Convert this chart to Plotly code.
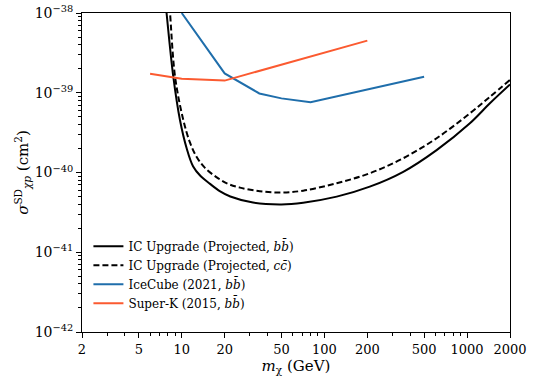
import plotly.graph_objs as go

# IC Upgrade projected, b bbar
ic_bb_mass = [7.75, 7.83, 8.73, 9.72, 10.84, 12.0, 13.5, 15.8, 18.6, 21.9, 31.6, 50, 71, 122, 208, 357, 612, 1047, 1446, 2000]
ic_bb_sigma = [1.2e-38, 1.0e-38, 1.59e-39, 4.55e-40, 2.0e-40, 1.2e-40, 9.1e-41, 7.2e-41, 5.8e-41, 5.0e-41, 4.2e-41,
               3.98e-41, 4.18e-41, 4.98e-41, 6.64e-41, 1.02e-40, 1.91e-40, 4.14e-40, 7.38e-40, 1.27e-39]

# IC Upgrade projected, c cbar
ic_cc_mass = [8.2, 8.28, 8.98, 10.26, 11.4, 12.7, 14.5, 17.6, 21, 25.6, 35.3, 50, 71, 122, 208, 357, 612, 1047, 1446, 2000]
ic_cc_sigma = [1.2e-38, 1.0e-38, 1.59e-39, 4.55e-40, 2.4e-40, 1.58e-40, 1.15e-40, 8.7e-41, 7.24e-41, 6.46e-41,
               5.82e-41, 5.6e-41, 5.92e-41, 7.33e-41, 9.78e-41, 1.51e-40, 2.69e-40, 5.52e-40, 8.9e-40, 1.45e-39]

# IceCube 2021
icecube_mass = [10, 20, 35, 50, 80, 500]
icecube_sigma = [1.0e-38, 1.75e-39, 9.8e-40, 8.5e-40, 7.6e-40, 1.59e-39]

# Super-K 2015
superk_mass = [6, 10, 20, 50, 100, 200]
superk_sigma = [1.73e-39, 1.5e-39, 1.42e-39, 2.26e-39, 3.2e-39, 4.5e-39]

x_ticks = [2, 5, 10, 20, 50, 100, 200, 500, 1000, 2000]
y_exps = [-42, -41, -40, -39, -38]

FONT = "'DejaVu Serif', serif"
bb = "<i>b</i><i>b\u0304</i>"
cc = "<i>c</i><i>c\u0304</i>"

traces = [
    go.Scatter(x=ic_bb_mass, y=ic_bb_sigma, mode="lines", name="IC Upgrade (Projected, " + bb + ")",
               line=dict(color="black", width=2, shape="spline", smoothing=1.0)),
    go.Scatter(x=ic_cc_mass, y=ic_cc_sigma, mode="lines", name="IC Upgrade (Projected, " + cc + ")",
               line=dict(color="black", width=2, dash="6px,3px", shape="spline", smoothing=1.0)),
    go.Scatter(x=icecube_mass, y=icecube_sigma, mode="lines", name="IceCube (2021, " + bb + ")",
               line=dict(color="#1f6eab", width=2)),
    go.Scatter(x=superk_mass, y=superk_sigma, mode="lines", name="Super-K (2015, " + bb + ")",
               line=dict(color="#fb5a30", width=2)),
]

x_minor = []
for dec in [1, 10, 100, 1000]:
    for m in range(2, 10):
        v = m * dec
        if 2 <= v <= 2000 and v not in x_ticks:
            x_minor.append(v)
y_minor = []
for e in y_exps[:-1]:
    for m in range(2, 10):
        y_minor.append(m * 10.0 ** e)

layout = go.Layout(
    width=534, height=388,
    margin=dict(l=82, r=24, t=13, b=56, autoexpand=False),
    paper_bgcolor="white", plot_bgcolor="white",
    font=dict(family=FONT, color="black", size=13),
    showlegend=True,
    legend=dict(x=0.015, y=0.045, xanchor="left", yanchor="bottom", bgcolor="rgba(255,255,255,0)",
                font=dict(size=12, family=FONT), tracegroupgap=0, itemwidth=30),
    xaxis=dict(
        type="log", range=[0.30103, 3.30103], automargin=False,
        tickmode="array", tickvals=x_ticks, ticktext=[str(v) for v in x_ticks],
        ticks="outside", ticklen=5, tickwidth=1, tickcolor="black",
        showline=True, linecolor="black", linewidth=1, mirror=True,
        showgrid=False, zeroline=False,
        minor=dict(tickmode="array", tickvals=x_minor, ticks="outside", ticklen=3,
                   tickcolor="black", showgrid=False),
        title=dict(text="<i>m</i><sub>χ</sub> (GeV)", font=dict(size=15), standoff=4),
        tickfont=dict(size=13),
    ),
    yaxis=dict(
        type="log", range=[-42, -38], automargin=False,
        tickmode="array", tickvals=[10.0 ** e for e in y_exps],
        ticktext=["10<sup>\u2212%d</sup>" % (-e) for e in y_exps],
        ticks="outside", ticklen=5, tickwidth=1, tickcolor="black",
        showline=True, linecolor="black", linewidth=1, mirror=True,
        showgrid=False, zeroline=False,
        minor=dict(tickmode="array", tickvals=y_minor, ticks="outside", ticklen=3,
                   tickcolor="black", showgrid=False),
        title=dict(text="<i>σ</i><sup>SD</sup><sub><i>χp</i></sub> (cm<sup>2</sup>)",
                   font=dict(size=15), standoff=2),
        tickfont=dict(size=14),
    ),
)

fig = go.Figure(data=traces, layout=layout)
# drop the default 8px body margin so the figure fills the window
fig.write_html("out.html", config={"displayModeBar": False},
               post_script="document.body.style.margin='0';")
